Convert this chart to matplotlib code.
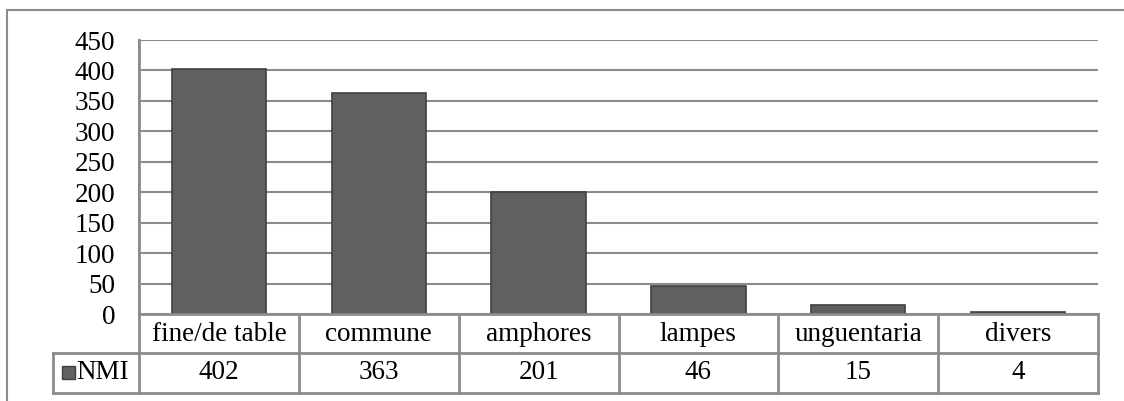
import matplotlib
matplotlib.use("Agg")
import matplotlib.pyplot as plt
from matplotlib.patches import Rectangle

# ==========================
# DATOS
# ==========================
categorias = ["fine/de table", "commune", "amphores", "lampes", "unguentaria", "divers"]
nmi = [402, 363, 201, 46, 15, 4]
serie = "NMI"
yticks = [0, 50, 100, 150, 200, 250, 300, 350, 400, 450]

W, H = 1124, 401
GRIS = "#8c8c8c"
BARRA = "#606060"
BORDE = "#404040"
FS = 19.5

plt.rcParams["font.family"] = ["Liberation Serif", "DejaVu Serif"]

fig = plt.figure(figsize=(W / 100, H / 100), dpi=100)

# zona del grafico en pixeles
x0, x1 = 139, 1098
y_top, y_zero = 40, 314
ax = fig.add_axes([x0 / W, 1 - y_zero / H, (x1 - x0) / W, (y_zero - y_top) / H])

n = len(categorias)
pos = [i + 0.5 for i in range(n)]
ax.bar(pos, nmi, width=0.59, color=BARRA, edgecolor=BORDE, linewidth=1.2, zorder=3)

ax.set_xlim(0, n)
ax.set_ylim(0, 450)
ax.set_yticks(yticks)
ax.set_yticklabels([str(v) for v in yticks], fontsize=FS)
ax.tick_params(axis="y", length=0, pad=17)
ax.set_xticks([])
ax.yaxis.grid(True, color=GRIS, linewidth=1.5, zorder=0)

for s in ["top", "right", "bottom"]:
    ax.spines[s].set_visible(False)
ax.spines["left"].set_color(GRIS)
ax.spines["left"].set_linewidth(1.5)

# ==========================
# TABLA DE DATOS
# ==========================
h_ax = y_zero - y_top
r1 = -(352.7 - y_zero) / h_ax
r2 = -(392.7 - y_zero) / h_ax
ancho_cat = (x1 - x0) / n
x_leg = -(x0 - 52.7) / ancho_cat

tr = ax.get_xaxis_transform()
kw = dict(color=GRIS, linewidth=2, transform=tr, clip_on=False, zorder=4)

ax.plot([0, n], [0, 0], **kw)
ax.plot([x_leg, n], [r1, r1], **kw)
ax.plot([x_leg, n], [r2, r2], **kw)
ax.plot([0, 0], [1, r2], **kw)
ax.plot([x_leg, x_leg], [r1, r2], **kw)
for i in range(1, n + 1):
    ax.plot([i, i], [0, r2], **kw)

for i, (c, v) in enumerate(zip(categorias, nmi)):
    ax.text(i + 0.5, r1 / 2 - 0.005, c, transform=tr, ha="center", va="center",
            fontsize=FS, clip_on=False)
    ax.text(i + 0.5, (r1 + r2) / 2, str(v), transform=tr, ha="center",
            va="center", fontsize=FS, clip_on=False)

# leyenda dentro de la tabla
ax.add_patch(Rectangle((x_leg + 0.06, (r1 + r2) / 2 - 0.024), 0.08, 0.048,
                       transform=tr, facecolor=BARRA, edgecolor=BORDE,
                       linewidth=1, clip_on=False))
ax.text(x_leg + 0.15, (r1 + r2) / 2, serie, transform=tr, ha="left",
        va="center", fontsize=FS, clip_on=False)

# marco exterior
fig.add_artist(plt.Line2D([7.3 / W, 7.3 / W], [0, 1 - 10 / H],
                          color=GRIS, linewidth=1.5, transform=fig.transFigure))
fig.add_artist(plt.Line2D([7.3 / W, 1], [1 - 10 / H, 1 - 10 / H],
                          color=GRIS, linewidth=1.5, transform=fig.transFigure))

fig.savefig("out.png", dpi=100)
plt.close()
